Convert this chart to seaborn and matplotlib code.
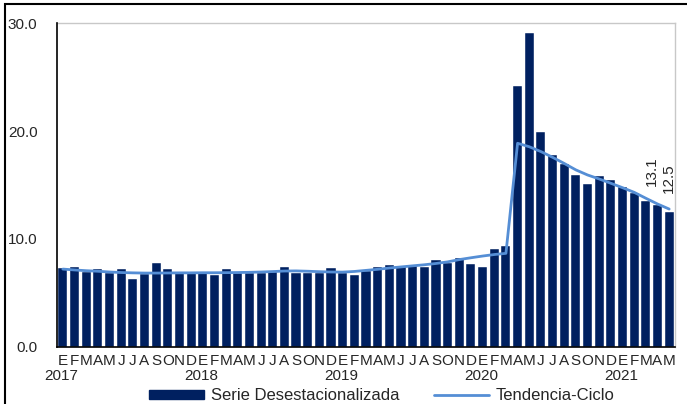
import pandas as pd
import numpy as np
import matplotlib.pyplot as plt
import matplotlib.patches as mpatches
import matplotlib.transforms as mtransforms
import seaborn as sns

# Monthly data, Jan 2017 - May 2021
years = ["2017", "2018", "2019", "2020", "2021"]
month_letters = ["E", "F", "M", "A", "M", "J", "J", "A", "S", "O", "N", "D"]

serie = [7.33, 7.42, 6.96, 7.18, 6.81, 7.18, 6.31, 6.74, 7.79, 7.18, 6.87, 6.93,
         6.87, 6.68, 7.24, 6.81, 6.87, 6.81, 6.93, 7.36, 6.81, 6.87, 6.87, 7.27,
         6.87, 6.65, 7.05, 7.42, 7.55, 7.45, 7.50, 7.42, 8.04, 7.79, 8.26, 7.67,
         7.42, 9.03, 9.34, 24.2, 29.07, 19.89, 17.75, 16.92, 15.9, 15.12, 15.83, 15.46,
         14.84, 14.29, 13.49, 13.1, 12.5]

tendencia = [7.20, 7.12, 7.05, 7.00, 6.93, 6.88, 6.85, 6.83, 6.83, 6.84, 6.85, 6.85,
             6.86, 6.86, 6.87, 6.88, 6.90, 6.93, 6.97, 7.02, 7.03, 7.00, 6.96, 6.93,
             6.92, 6.98, 7.08, 7.18, 7.30, 7.40, 7.50, 7.60, 7.72, 7.87, 8.08, 8.25,
             8.41, 8.55, 8.66, 18.87, 18.55, 18.10, 17.57, 17.00, 16.40, 15.93, 15.56, 15.16,
             14.75, 14.32, 13.77, 13.24, 12.77]

labelled = {51: "13.1", 52: "12.5"}

n = len(serie)
periods = [f"{years[i // 12]}-{i % 12 + 1:02d}" for i in range(n)]
df = pd.DataFrame({"periodo": periods, "serie": serie, "tendencia": tendencia})

bar_color = "#002060"
line_color = "#558ED5"

sns.set_style("white")
plt.rcParams["font.family"] = ["Liberation Sans", "DejaVu Sans"]

fig = plt.figure(figsize=(6.87, 4.04), dpi=100)
ax = fig.add_axes([57 / 687, 1 - 346.7 / 404, (675 - 57) / 687, (346.7 - 23.3) / 404])

sns.barplot(data=df, x="periodo", y="serie", order=periods, color=bar_color,
            saturation=1, width=0.78, edgecolor="white", linewidth=0.3, ax=ax)
ax.plot(range(n), df["tendencia"], color=line_color, lw=2)

ax.set_xlim(-0.5, n - 0.5)
ax.set_ylim(0, 30)
ax.set_yticks([0, 10, 20, 30])
ax.set_yticklabels([f"{v:.1f}" for v in [0, 10, 20, 30]], fontsize=11)
ax.set_xticks(range(n))
ax.set_xticklabels([month_letters[i % 12] for i in range(n)], fontsize=11)
ax.tick_params(axis="x", which="major", length=0, pad=5)
ax.tick_params(axis="y", which="major", length=5, width=1, color="black", direction="out", pad=9)
ax.set_xticks([11.5, 23.5, 35.5, 47.5], minor=True)
ax.tick_params(axis="x", which="minor", length=7, width=1, color="black", direction="inout")
ax.set_xlabel("")
ax.set_ylabel("")

for s in ["left", "bottom"]:
    ax.spines[s].set_color("black")
    ax.spines[s].set_linewidth(1.2)
for s in ["top", "right"]:
    ax.spines[s].set_color("#C8C8C8")
    ax.spines[s].set_linewidth(1)
ax.spines["left"].set_zorder(5)

# Year labels under the January of each year
trans = mtransforms.blended_transform_factory(ax.transData, ax.transAxes)
for k, yr in enumerate(years):
    ax.text(k * 12 - 0.1, -0.09, yr, transform=trans, ha="center", va="center", fontsize=11)

# Value labels on the last two bars
shifts = {51: -4, 52: 0}
for i, txt in labelled.items():
    ax.annotate(txt, (i, serie[i]), xytext=(shifts[i], 14), textcoords="offset points",
                rotation=90, ha="center", va="bottom", fontsize=11)

handles = [mpatches.Patch(color=bar_color, label="Serie Desestacionalizada"),
           plt.Line2D([], [], color=line_color, lw=2, label="Tendencia-Ciclo")]
fig.legend(handles=handles, loc="center", bbox_to_anchor=(382 / 687, 1 - 396 / 404),
           ncol=2, frameon=False, fontsize=12, handlelength=3.3, handleheight=0.5,
           handletextpad=0.4, columnspacing=2.1, borderpad=0, borderaxespad=0)

# outer frame of the original figure
fig.add_artist(mpatches.Rectangle((5 / 687, -0.1), 1.2, 1 - 4 / 404 + 0.1, transform=fig.transFigure,
                                  fill=False, edgecolor="black", lw=1.5, clip_on=False))

fig.savefig("out.png", dpi=100)
